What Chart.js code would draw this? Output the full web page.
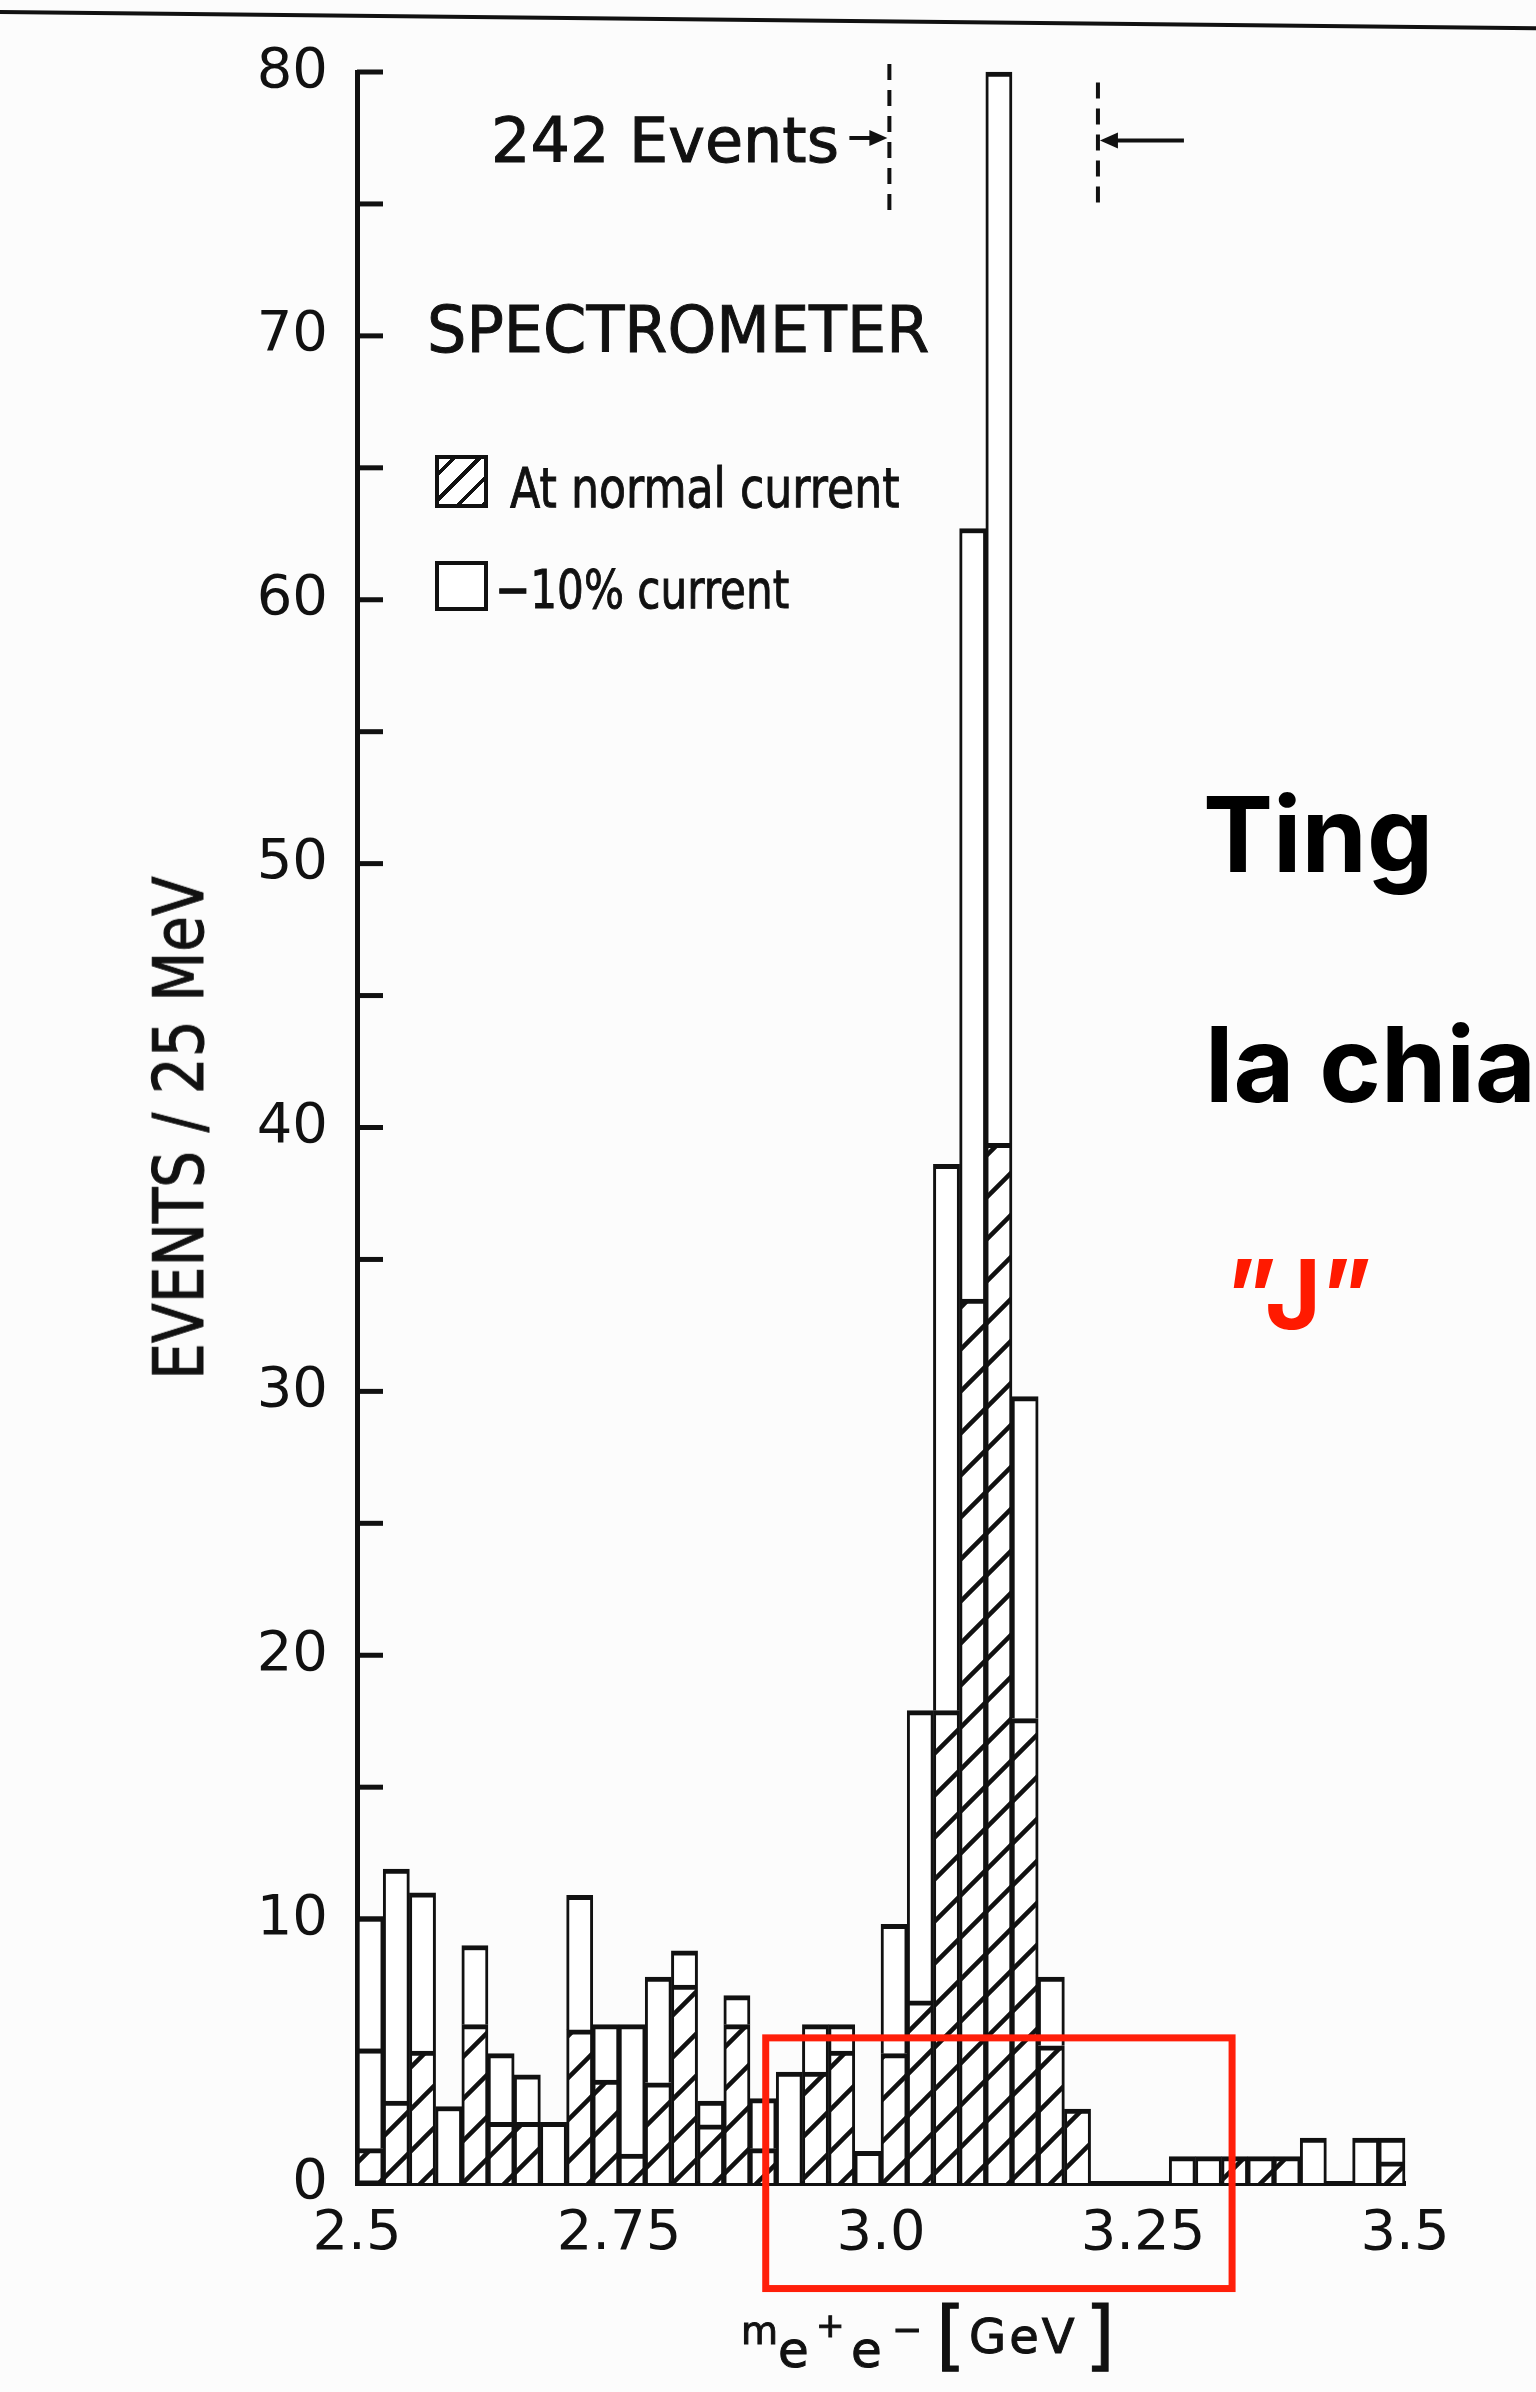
<!DOCTYPE html>
<html>
<head>
<meta charset="utf-8">
<title>Spectrometer e+e- mass spectrum</title>
<script src="https://cdn.jsdelivr.net/npm/chart.js@4.4.1/dist/chart.umd.min.js"></script>
<style>
    body { margin: 0; background: #fff; }
    #page { position: relative; width: 1536px; height: 2392px; overflow: hidden; background: #fcfcfc; font-family: 'DejaVu Sans', sans-serif; color: #111; }
    #page canvas { position: absolute; left: 0; top: 0; }
    .txt { position: absolute; white-space: nowrap; line-height: 1; transform-origin: left top; -webkit-text-stroke: 1px #111; }
    .box { position: absolute; box-sizing: border-box; border: 4px solid #111; background: #fff; }
    .big { font-family: Inter, Roboto, 'Liberation Sans', sans-serif; font-weight: 700; font-size: 105px; color: #000; -webkit-text-stroke: 0; }
</style>
</head>
<body>
<div id="page">
    <canvas id="massChart" width="1536" height="2392"></canvas>

    <!-- scan edge -->
    <div style="position:absolute; left:-10px; top:10px; width:1580px; border-top:4px solid #111; transform:rotate(0.6deg); transform-origin:left top;"></div>

    <div class="txt" style="left:491px; top:110px; font-size:62px;">242 Events</div>
    <div class="txt" style="left:427px; top:298px; font-size:64px; transform:scaleX(0.97);">SPECTROMETER</div>

    <div class="box" style="left:435px; top:455px; width:53px; height:53px; background:repeating-linear-gradient(135deg, #fff 0 8px, #111 8px 12px, #fff 12px 18px);"></div>
    <div class="txt" style="left:510px; top:460px; font-size:56px; transform:scaleX(0.79);">At normal current</div>
    <div class="box" style="left:435px; top:561px; width:53px; height:50px;"></div>
    <div class="txt" style="left:495px; top:563px; font-size:54px; transform:scaleX(0.78);">&minus;10% current</div>

    <div class="txt" style="left:179px; top:1128px; font-size:70px; transform-origin:center center; transform:translate(-50%,-50%) rotate(-90deg) scaleX(0.83);">EVENTS / 25 MeV</div>

    <!-- x axis title: m_{e+e-} [GeV] -->
    <div class="txt" style="left:741px; top:2312px; font-size:38px;">m</div>
    <div class="txt" style="left:778px; top:2325px; font-size:50px;">e</div>
    <div class="txt" style="left:816px; top:2308px; font-size:34px;">+</div>
    <div class="txt" style="left:851px; top:2325px; font-size:50px;">e</div>
    <div class="txt" style="left:892px; top:2312px; font-size:36px;">&minus;</div>
    <div class="txt" style="left:936px; top:2297px; font-size:76px;">[</div>
    <div class="txt" style="left:969px; top:2312px; font-size:48px; letter-spacing:3px;">GeV</div>
    <div class="txt" style="left:1085px; top:2297px; font-size:76px;">]</div>

    <div class="txt big" style="left:1203px; top:781px;">Ting</div>
    <div class="txt big" style="left:1205px; top:1011px;">la chia</div>
    <div class="txt big" style="left:1226px; top:1246px; font-size:96px; color:#ff1a00;">&rdquo;J&rdquo;</div>
</div>

<script>
// Ting et al. spectrometer data, events per 25 MeV bin
const binWidth = 0.025;
const binLowEdges = [
    2.500, 2.525, 2.550, 2.575, 2.600, 2.625, 2.650, 2.675, 2.700, 2.725,
    2.750, 2.775, 2.800, 2.825, 2.850, 2.875, 2.900, 2.925, 2.950, 2.975,
    3.000, 3.025, 3.050, 3.075, 3.100, 3.125, 3.150, 3.175, 3.200, 3.225,
    3.250, 3.275, 3.300, 3.325, 3.350, 3.375, 3.400, 3.425, 3.450, 3.475
];

// hatched: at normal current
const normalCurrent = [
    1.3, 3.1, 5.0, 0, 6.0, 2.3, 2.3, 0, 5.8, 3.9,
    1.1, 3.8, 7.5, 2.2, 6.0, 1.3, 0, 4.2, 5.0, 0,
    4.9, 6.9, 17.9, 33.5, 39.4, 17.6, 5.2, 2.8, 0, 0,
    0, 0, 0, 1.0, 1.0, 1.0, 0, 0, 0, 0.8
];

// open: -10% current (stacked on top of the hatched part)
const minus10Current = [
    8.8, 8.8, 6.0, 2.9, 3.0, 2.6, 1.8, 2.3, 5.1, 2.1,
    4.9, 4.0, 1.3, 0.9, 1.1, 1.9, 4.2, 1.8, 1.0, 1.2,
    4.9, 11.0, 20.7, 29.2, 40.6, 12.2, 2.6, 0, 0, 0,
    0, 1.0, 1.0, 0, 0, 0, 1.7, 0, 1.7, 0.9
];

const massTicks = [2.5, 2.75, 3.0, 3.25, 3.5];
const massTickLabels = ['2.5', '2.75', '3.0', '3.25', '3.5'];
const countTicks = [0, 5, 10, 15, 20, 25, 30, 35, 40, 45, 50, 55, 60, 65, 70, 75, 80];
const countTickLabels = ['0', '', '10', '', '20', '', '30', '', '40', '', '50', '', '60', '', '70', '', '80'];

// mass window of the 242 events, and the highlighted region
const eventWindow = [3.008, 3.207];
const highlightBox = { xMin: 2.89, xMax: 3.335, yMin: -4.0, yMax: 5.5 };

const ink = '#111';
const red = '#ff1f0a';

const canvas = document.getElementById('massChart');
const ctx = canvas.getContext('2d');

// diagonal hatch fill
function makeHatch(c) {
    const s = 42;
    const tile = document.createElement('canvas');
    tile.width = s;
    tile.height = s;
    const g = tile.getContext('2d');
    g.fillStyle = '#fff';
    g.fillRect(0, 0, s, s);
    g.strokeStyle = ink;
    g.lineWidth = 4.5;
    g.beginPath();
    g.moveTo(0, s); g.lineTo(s, 0);
    g.moveTo(-s / 2, s / 2); g.lineTo(s / 2, -s / 2);
    g.moveTo(s / 2, s * 1.5); g.lineTo(s * 1.5, s / 2);
    g.stroke();
    return c.createPattern(tile, 'repeat');
}

function toPoints(values) {
    return binLowEdges.map((x, i) => ({ x: x + binWidth / 2, y: values[i] }));
}

// short tick marks drawn inside the plot along the y axis
const inwardTicks = {
    id: 'inwardTicks',
    afterDraw(chart) {
        const { ctx, chartArea, scales: { y } } = chart;
        ctx.save();
        ctx.strokeStyle = ink;
        ctx.lineWidth = 5;
        y.ticks.forEach(t => {
            const py = y.getPixelForValue(t.value);
            ctx.beginPath();
            ctx.moveTo(chartArea.left, py);
            ctx.lineTo(chartArea.left + 26, py);
            ctx.stroke();
        });
        ctx.restore();
    }
};

function arrow(c, fromX, toX, y) {
    const dir = Math.sign(toX - fromX);
    c.beginPath();
    c.moveTo(fromX, y);
    c.lineTo(toX - dir * 10, y);
    c.stroke();
    c.beginPath();
    c.moveTo(toX, y);
    c.lineTo(toX - dir * 18, y - 8);
    c.lineTo(toX - dir * 18, y + 8);
    c.closePath();
    c.fill();
}

// dashed window markers, arrows and the red highlight box
const annotations = {
    id: 'annotations',
    afterDraw(chart) {
        const { ctx, scales: { x, y } } = chart;
        const xL = x.getPixelForValue(eventWindow[0]);
        const xR = x.getPixelForValue(eventWindow[1]);
        ctx.save();
        ctx.strokeStyle = ink;
        ctx.fillStyle = ink;
        ctx.lineWidth = 4;
        ctx.setLineDash([16, 10]);
        ctx.beginPath();
        ctx.moveTo(xL, y.getPixelForValue(80.3));
        ctx.lineTo(xL, y.getPixelForValue(74.4));
        ctx.moveTo(xR, y.getPixelForValue(79.6));
        ctx.lineTo(xR, y.getPixelForValue(74.8));
        ctx.stroke();
        ctx.setLineDash([]);
        arrow(ctx, xL - 40, xL - 2, y.getPixelForValue(77.5));
        arrow(ctx, xR + 86, xR + 2, y.getPixelForValue(77.4));

        ctx.strokeStyle = red;
        ctx.lineWidth = 7;
        const bx = x.getPixelForValue(highlightBox.xMin);
        const by = y.getPixelForValue(highlightBox.yMax);
        ctx.strokeRect(bx, by,
            x.getPixelForValue(highlightBox.xMax) - bx,
            y.getPixelForValue(highlightBox.yMin) - by);
        ctx.restore();
    }
};

const tickFont = { family: 'DejaVu Sans', size: 56 };
const barBorder = { top: 5, left: 3, right: 3, bottom: 0 };

new Chart(ctx, {
    type: 'bar',
    data: {
        datasets: [
            {
                label: 'At normal current',
                data: toPoints(normalCurrent),
                backgroundColor: makeHatch(ctx),
                borderColor: ink,
                borderWidth: barBorder,
                borderSkipped: 'start',
                barPercentage: 1,
                categoryPercentage: 1,
                clip: false
            },
            {
                label: '-10% current',
                data: toPoints(minus10Current),
                backgroundColor: '#fff',
                borderColor: ink,
                borderWidth: barBorder,
                borderSkipped: 'start',
                barPercentage: 1,
                categoryPercentage: 1,
                clip: false
            }
        ]
    },
    options: {
        responsive: false,
        animation: false,
        layout: { padding: { top: 72, right: 131, left: 0, bottom: 0 } },
        plugins: {
            legend: { display: false },
            tooltip: { enabled: false }
        },
        scales: {
            x: {
                type: 'linear',
                min: 2.5,
                max: 3.5,
                offset: false,
                stacked: true,
                grid: { display: false, drawTicks: false, offset: false },
                border: { display: true, color: ink, width: 5 },
                afterBuildTicks: s => { s.ticks = massTicks.map(v => ({ value: v })); },
                afterFit: s => { s.height = 209; },
                ticks: {
                    callback: (v, i) => massTickLabels[i],
                    font: tickFont,
                    color: ink,
                    padding: 18,
                    maxRotation: 0,
                    autoSkip: false
                }
            },
            y: {
                min: 0,
                max: 80,
                stacked: true,
                grid: { display: false, drawTicks: false },
                border: { display: true, color: ink, width: 5 },
                afterBuildTicks: s => { s.ticks = countTicks.map(v => ({ value: v })); },
                afterFit: s => { s.width = 357; },
                ticks: {
                    callback: (v, i) => countTickLabels[i],
                    font: tickFont,
                    color: ink,
                    padding: 29,
                    autoSkip: false
                }
            }
        }
    },
    plugins: [inwardTicks, annotations]
});
</script>
</body>
</html>
